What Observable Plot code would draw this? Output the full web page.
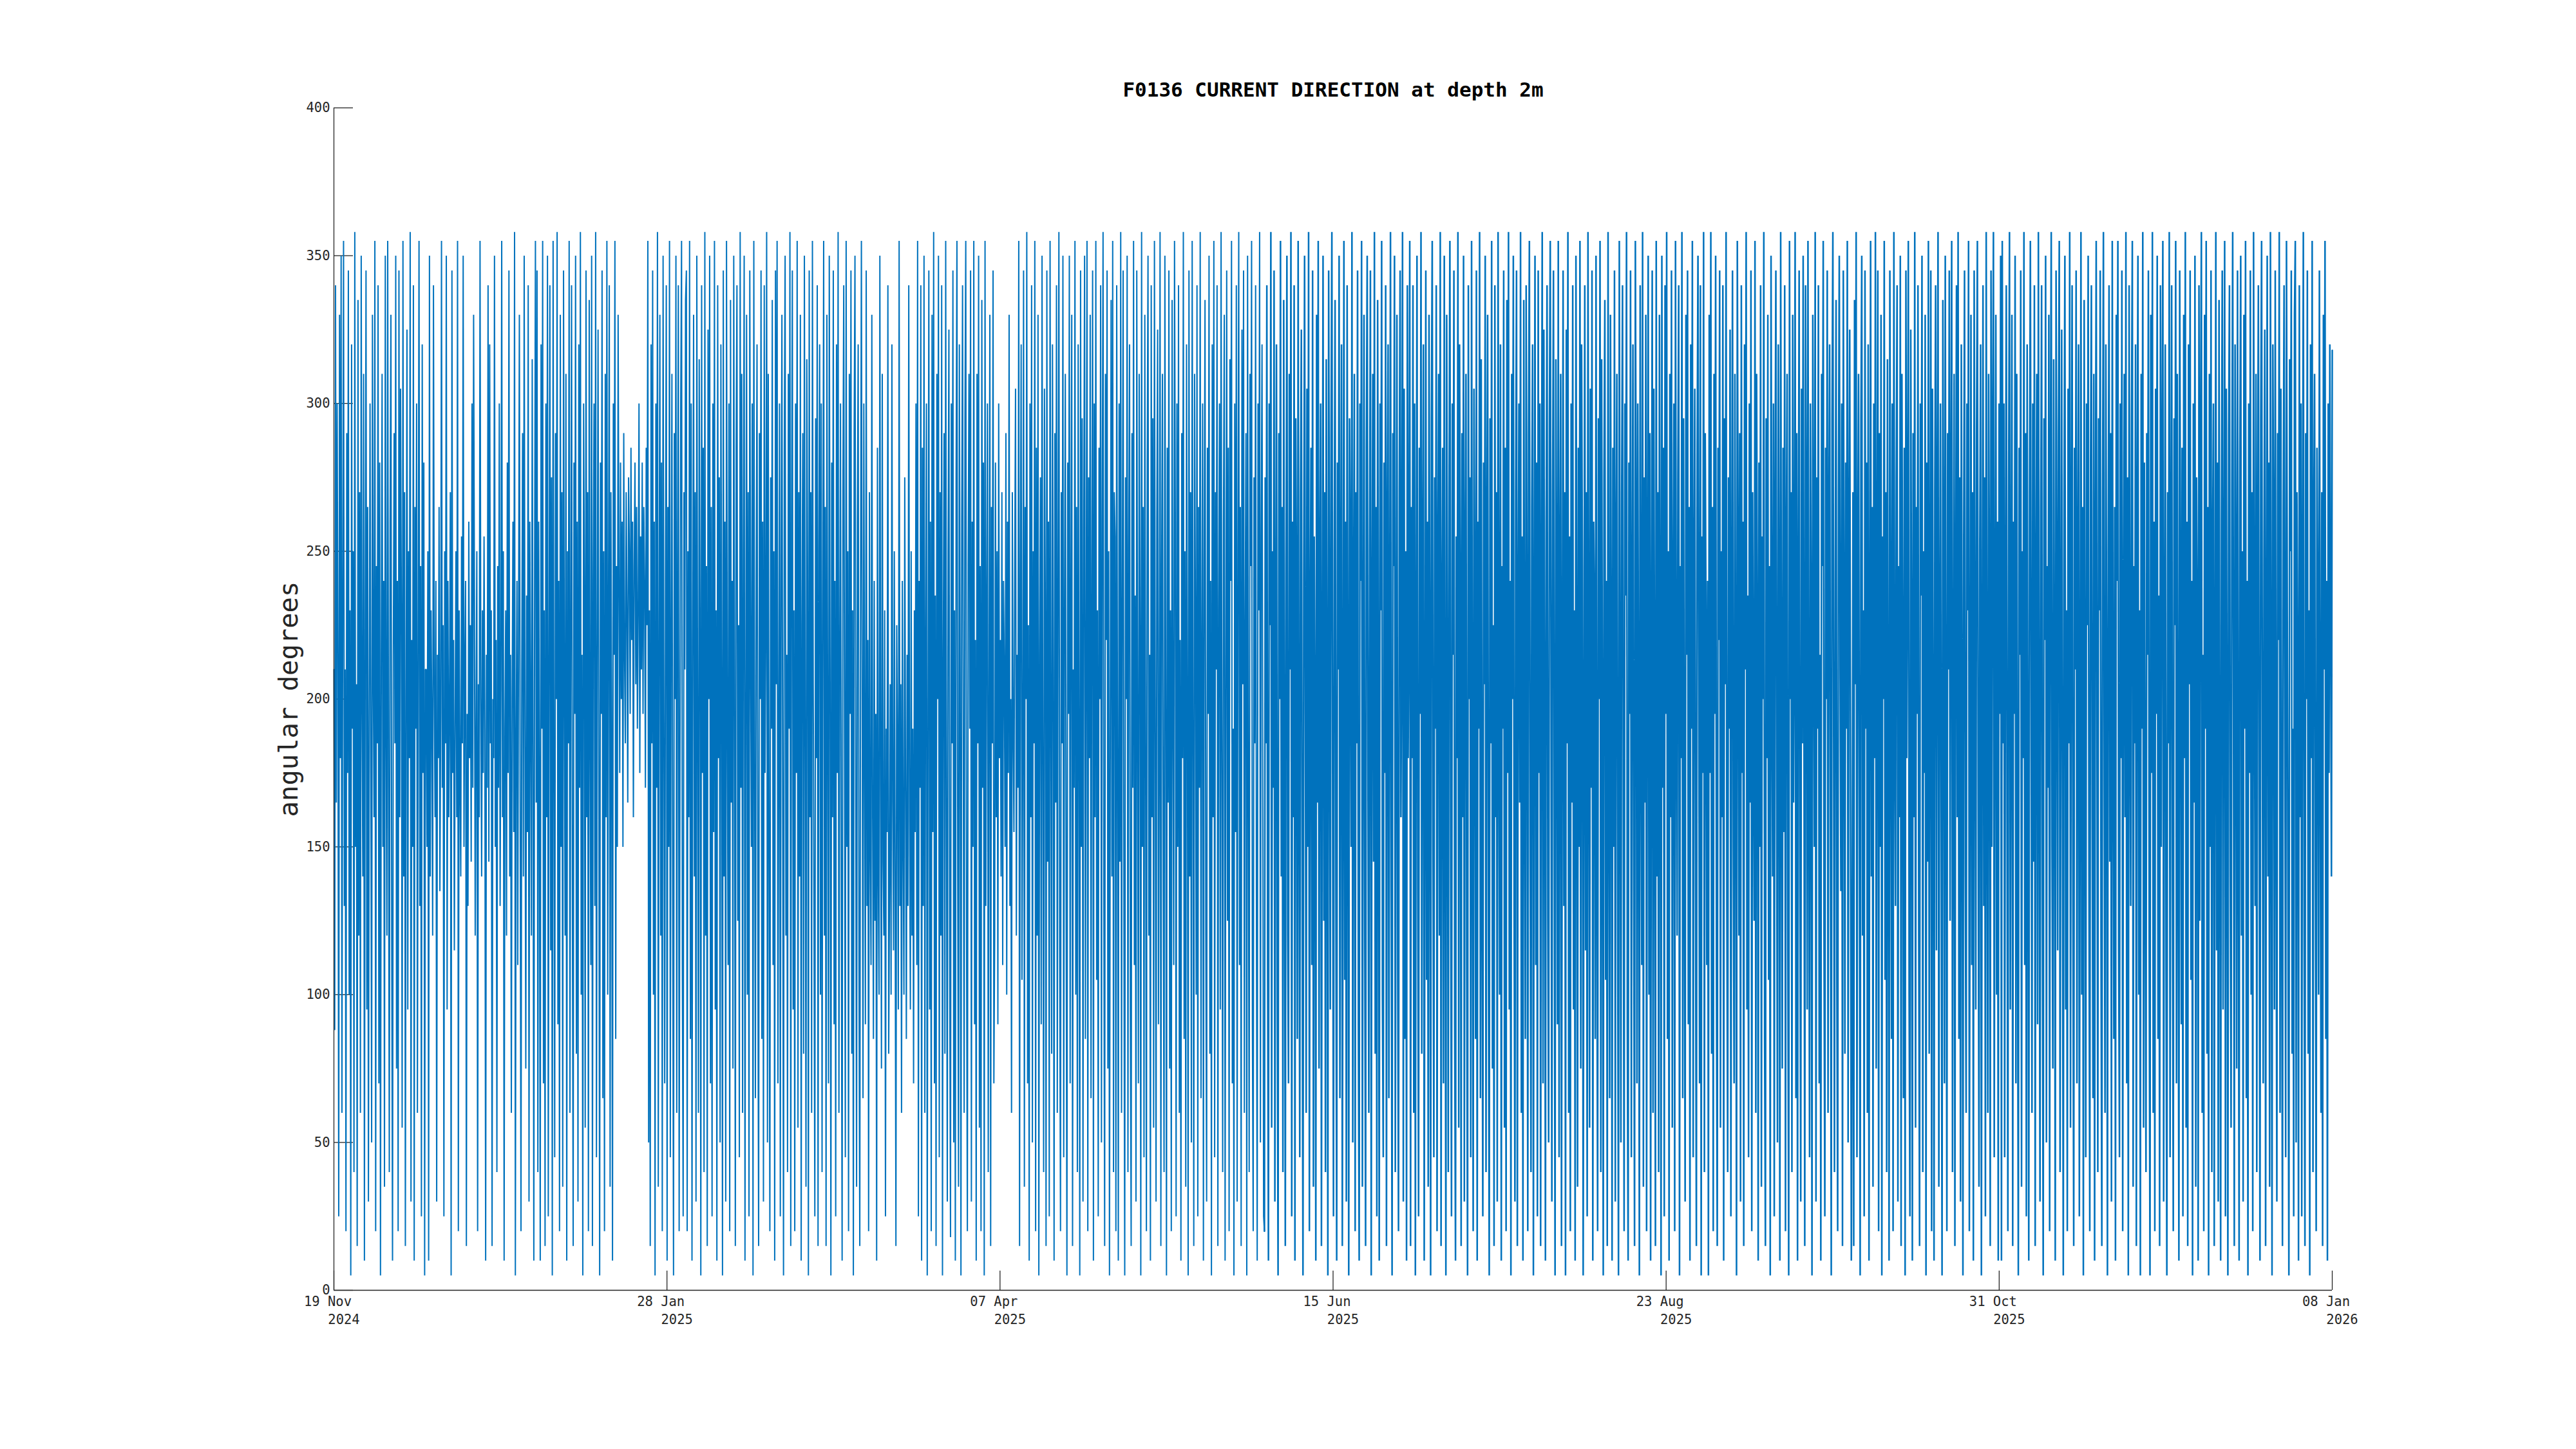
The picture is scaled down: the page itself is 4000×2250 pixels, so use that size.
<!DOCTYPE html>
<html>
<head>
<meta charset="utf-8">
<script src="https://cdn.jsdelivr.net/npm/d3@7"></script>
<script src="https://cdn.jsdelivr.net/npm/@observablehq/plot@0.6"></script>
<style>
  html, body { margin: 0; padding: 0; background: #ffffff; }
  #chart svg { display: block; }
</style>
</head>
<body>
<div id="chart"></div>
<script>
// ---- Chart text ----
const titleText = "F0136 CURRENT DIRECTION at depth 2m";
const yLabelText = "angular degrees";

// ---- Axis ticks ----
const yTicks = [0, 50, 100, 150, 200, 250, 300, 350, 400];
const xTickDates = ["2024-11-19T20:00Z", "2025-01-28T00:00Z", "2025-04-07T04:00Z", "2025-06-15T08:00Z", "2025-08-23T12:00Z", "2025-10-31T16:00Z", "2026-01-08T20:00Z"];
const xTickDayMonth = ["19 Nov", "28 Jan", "07 Apr", "15 Jun", "23 Aug", "31 Oct", "08 Jan"];
const xTickYear = ["2024", "2025", "2025", "2025", "2025", "2025", "2026"];

// ---- Series start / end (regularly sampled record) ----
const seriesStart = "2024-11-19T20:00Z";
const seriesEnd = "2026-01-08T20:00Z";

// ---- Current direction (degrees), month by month ----
const nov2024 = [210,88,340,165,300,215,25,330,180,350,60,240,355,130,210,20,290,175,345,100,230,5,320,190,
250,40,358,150,205,15,335,120,270,60,350,200,140,310,10,225,345,95,265,30,190,300,175,50,
330,210,160,355,20,245,185,340,70,280,5,215,310,150,240,35,350,190,120];
const dec2024 = [355,170,40,260,330,120,10,215,290,185,350,75,240,20,345,160,305,230,55,355,140,270,15,200,
325,95,250,180,358,30,220,150,340,10,265,190,300,60,215,355,130,245,25,320,175,280,5,210,
210,150,250,10,350,140,230,190,120,340,205,160,240,30,215,180,265,135,195,355,170,225,25,250,
185,350,95,240,160,200,270,5,345,175,220,115,190,250,160,355,20,230,175,140,255,185,350,150,
210,240,15,195,130,260,180,225,145,300,170,330,235,120,190,250,20,205,160,355,200,140,230,175,
255,190,10,215,170,340,145,320,185,230,15,200,
180,350,150,220,40,245,170,300,130,205,355,160,250,10,190,230,120,280,175,345,140,215,60,200,
260,155,358,5,185,240,110,225,330,165,20,210,290,140,350,190,75,235,155,340,30,260,200,120,
315,180,10,245,355,165];
const jan2025 = [345,40,260,175,10,320,190,355,70,230,15,300,160,350,25,210,340,115,275,5,355,180,45,290,
200,358,90,240,20,330,150,270,35,345,205,120,310,10,250,185,355,60,225,340,140,15,280,195,
350,80,260,30,320,170,358,100,215,5,300,240,55,345,160,270,20,335,190,110,350,15,240,300,
130,358,45,210,325,170,5,280,195,345,65,250,20,310,160,355,100,230,340,35,270,190,10,300,
215,355,85,245,150,330,
240,175,280,200,260,150,290,215,185,270,230,165,275,250,195,285,220,260,160,245,280,205,265,190,
230,300,175,255,210,280,195,265,240,170,285,225,
355,50,230,15,320,185,345,100,260,5,300,170,358,35,215,330,120,280,20,350,195,70,240,340,
10,265,150,355,45,225,310,130,5,290,200,350,60,245,340,20,175,300,355,110,25,270,210,335];
const feb2025 = [345,20,250,160,355,85,300,10,220,330,140,270,30,350,190,60,315,230,5,340,175,285,40,358,
120,245,15,325,200,350,70,265,25,300,155,355,95,230,10,340,180,275,50,320,210,5,345,140,
260,30,355,190,110,300,20,335,165,240,75,350,205,15,285,340,125,225,45,358,170,310,60,250,
350,10,195,330,100,270,25,345,215,150,300,5,355,180,65,240,320,130,15,290,200,345,85,260,
30,340,175,225,358,50,310,145,20,275,190,335,110,250,10,345,205,355,70,180,300,25,240,330,
160,5,285,350,120,215,40,310,190,358,15,260,345,95,230,20,300,175,355,55,270,140,330,10,
225,290,80,350,185,35,315,240,5,345,160,270,60,355,205,125,25,295,180,340,15,250,320,100];
const mar2025 = [300,40,230,355,120,265,15,330,190,70,350,210,5,280,160,345,90,240,25,320,175,358,60,215,
300,130,10,270,340,185,45,355,150,250,20,310,195,345,80,230,5,290,350,165,35,260,320,110,
15,240,355,200,65,300,
180,90,345,130,220,20,270,150,110,330,160,85,240,125,195,10,285,140,100,350,170,75,310,145,
120,230,25,190,155,340,80,135,205,100,320,165,115,250,140,15,225,180,95,355,130,205,60,240,
150,100,275,170,85,215,130,340,160,95,250,120,190,70,230,155,300,110,
355,25,240,170,340,10,285,130,350,60,220,300,5,190,345,95,260,20,330,155,358,70,235,15,
310,200,350,45,270,120,340,5,215,290,80,355,165,30,250,325,110,18,300,185,345,50,230,10,
275,355,140,35,320,205,5,260,340,175,60,295,355,120,20,245,310,190];
const apr2025 = [345,30,260,150,355,90,220,10,310,185,350,55,245,20,335,170,280,5,355,130,230,300,40,200,
330,15,265,185,345,70,120,280,160,250,90,300,180,220,140,270,110,240,210,150,290,100,260,175,
330,130,200,60,270,190,155,245,305,120,215,170,355,15,240,320,105,180,345,35,265,200,358,70,
225,10,300,160,340,50,250,185,355,20,285,120,330,5,215,275,90,350,170,40,305,235,15,345,
145,260,25,355,195,80,320,210,10,290,165,340,60,245,358,115,20,270,185,350,45,230,310,135,
5,280,195,350,70,240,330,15,210,170,355,100,265,40,320,190,5,345,150,295,30,258,350,85,
215,355,20,275,180,330,65,240,345,10,300,160,355,105,230,25,285,200,340,50,260,358,130,15,
310,220,345,75,250,5,190,335,140,355,40,270];
const may2025 = [255,20,340,180,10,300,145,358,60,230,345,125,5,275,200,350,40,250,320,95,15,290,170,355,
110,235,30,345,190,70,310,225,5,358,150,265,45,330,185,20,280,350,120,215,10,340,160,295,
55,355,200,30,260,325,90,175,358,15,245,310,135,40,350,210,5,285,165,345,75,230,20,335,
195,110,355,260,25,300,150,340,60,220,10,290,180,358,85,250,35,320,205,5,345,140,270,50,
355,190,15,310,230,100,340,25,265,170,358,65,215,300,10,245,335,120,30,285,195,350,80,240,
5,320,160,355,45,270,210,340,15,230,300,95,358,175,40,260,330,10,200,345,125,285,20,315,
240,355,70,190,5,300,155,340,30,250,358,110,265,15,325,205,345,60,225,290,5,350,170,40,
310,245,355,90,20,275,185,340,135,10,300,230,358,50,255,320,165,25];
const jun2025 = [20,275,185,340,110,10,300,225,358,55,250,170,345,30,215,320,95,5,290,200,355,140,265,40,
335,180,15,245,350,120,70,310,210,358,25,260,160,340,10,295,230,85,355,175,45,270,325,130,
5,240,350,195,60,305,150,358,20,220,285,110,345,35,255,190,10,330,165,355,75,240,300,15,
200,350,125,270,40,315,185,5,345,225,95,290,358,160,25,250,335,140,10,280,210,350,65,235,
320,15,175,355,105,260,30,340,195,5,295,245,150,358,50,225,310,20,270,185,345,90,10,300,
240,355,35,200,330,120,15,285,350,170,60,250,345,5,220,310,145,358,80,265,25,335,190,10,
300,230,355,100,45,280,175,340,15,255,320,65,210,358,135,5,290,245,350,40,195,330,110,20,
270,345,160,225,358,30,305,85,250,10,340,180];
const jul2025 = [230,355,15,265,180,340,60,300,5,215,350,135,25,285,195,358,80,240,320,10,170,345,105,260,
35,330,210,5,295,355,150,45,275,190,340,20,245,310,120,358,15,225,285,70,350,165,5,330,
200,40,270,355,140,25,300,215,345,90,10,255,180,358,55,320,235,15,290,160,350,30,245,310,
110,5,340,200,275,45,355,170,20,305,230,85,345,10,260,190,358,65,315,140,25,280,205,350,
40,250,330,120,5,295,185,355,75,225,15,340,160,270,30,358,210,100,320,10,245,190,345,55,
285,20,335,175,358,95,240,5,310,200,350,130,30,270,345,15,225,300,165,358,60,255,10,335,
190,85,340,230,20,290,355,145,40,265,320,5,215,350,110,280,25,345,175,300,15,240,358,70,
325,195,10,260,340,125,50,295,355,205,30,270,345,155,5,315,235,90];
const aug2025 = [355,45,240,310,15,200,345,130,270,5,325,185,358,60,255,20,300,165,340,95,230,10,350,210,
35,285,150,355,75,320,245,5,190,340,115,270,25,358,215,55,305,170,345,10,260,230,85,350,
140,20,295,200,355,40,315,180,5,275,335,105,240,15,358,190,65,330,220,10,285,150,345,30,
250,310,125,5,355,205,50,270,340,160,20,300,235,358,90,10,280,195,345,45,225,320,135,15,
355,260,70,300,185,5,340,210,110,358,35,275,165,330,20,245,350,100,290,10,220,345,60,305,
190,15,355,140,270,40,330,225,5,350,170,285,25,340,195,358,85,250,10,310,160,345,55,230,
300,20,355,205,120,275,340,5,245,180,358,65,295,150,30,330,215,345,90,265,10,320,190,355,
45,240,305,135,15,285,350,210,70,340,5,255,175,358,40,290,225,110];
const sep2025 = [240,5,330,175,358,80,265,20,310,195,350,110,15,285,220,345,55,250,160,340,10,295,205,358,
130,40,275,190,325,25,230,345,150,70,310,200,5,355,245,120,290,30,340,175,260,15,320,210,
358,95,235,45,300,165,345,20,270,190,125,355,60,310,225,10,280,150,340,35,255,200,358,85,
15,295,180,330,105,245,5,350,215,140,300,25,265,345,170,50,320,230,10,358,190,75,285,155,
340,20,250,310,115,5,355,200,270,40,330,165,220,358,65,290,10,240,345,135,30,305,185,350,
200,15,340,260,95,355,170,45,300,225,5,330,250,150,358,30,275,190,340,70,215,10,310,245,
355,120,25,285,200,345,60,260,320,160,5,295,358,185,40,240,335,105,20,270,350,210,135,300,
15,345,230,80,280,190,355,50,255,325,170,10];
const oct2025 = [90,270,15,335,205,358,45,250,310,160,5,295,350,120,230,25,345,190,280,60,320,10,215,355,
140,265,35,300,180,358,75,240,345,20,290,150,330,5,255,200,355,105,270,40,315,170,10,345,
225,85,300,20,358,195,130,275,340,30,245,160,350,15,310,210,65,285,5,345,180,250,355,100,
25,325,220,10,290,160,358,55,265,195,340,120,15,300,235,350,40,250,175,330,5,280,145,355,
80,225,345,20,305,190,10,270,340,115,260,358,35,215,300,155,5,335,245,70,350,180,20,290,
210,345,125,265,355,40,190,310,15,240,340,160,358,85,275,30,320,205,5,255,345,140,60,300,
230,355,20,185,330,110,270,10,345,215,95,290,355,165,35,250,320,5,200,340,130,275,25,358,
180,60,310,240,15,345,150,285,358,45,220,330,100,260,10,300,195,350];
const nov2025 = [10,355,185,300,45,240,340,160,20,275,358,95,225,330,15,260,195,350,70,310,140,5,285,215,
345,35,250,180,358,110,290,25,320,165,10,270,355,200,60,300,145,340,15,235,310,90,358,185,
30,265,340,125,5,295,220,350,50,245,170,330,20,280,358,150,75,315,200,10,345,240,115,290,
355,40,210,325,160,5,270,350,95,230,20,305,185,358,55,255,340,130,15,285,210,345,70,240,
320,25,175,358,100,265,5,335,195,45,300,225,350,140,20,280,340,160,65,310,10,250,355,185,
40,295,230,345,120,15,270,358,170,60,320,210,5,250,340,145,290,30,355,195,85,265,10,330,
240,355,115,45,300,180,345,20,220,310,160,358,70,275,5,340,205,130,295,355,35,245,185,320,
15,265,350,100,230,5,310,190,358,55,280,150];
const dec2025 = [40,290,215,345,120,5,330,175,358,60,260,20,305,195,350,85,235,15,340,150,280,355,30,210,
320,110,5,270,185,358,45,250,340,135,20,295,225,355,70,310,160,10,345,240,90,285,25,330,
180,358,55,260,15,320,205,345,105,240,5,300,165,350,35,275,230,10,340,125,290,358,60,215,
20,330,190,355,80,265,5,310,150,345,40,250,300,15,200,358,115,280,30,335,170,10,260,345,
95,225,355,25,305,185,5,290,340,140,55,270,358,200,15,320,235,75,345,160,10,285,350,120,
250,30,330,190,355,65,240,5,300,175,345,100,270,20,358,215,130,310,40,260,340,160,10,295,
355,185,70,245,325,15,210,350,140,280,35,358,190,5,320,255,95,345,165,30,290,220,358,60,
305,140,15,265,340,200,45,355,230,110,5,315,250,345,80,190,25,330];
const jan2026 = [355,50,270,205,10,340,160,300,25,245,358,120,15,290,200,345,80,230,5,320,180,355,40,260,
310,140,20,285,225,100,345,190,60,270,15,330,210,355,85,240,10,300,175,320,230,140,318];

// ---- Build the table ----
const earlyMonths = [nov2024, dec2024, jan2025, feb2025, mar2025, apr2025, may2025];
const lateMonths = [jun2025, jul2025, aug2025, sep2025, oct2025, nov2025, dec2025, jan2026];
const direction = [].concat(...earlyMonths, ...lateMonths);
const splitIndex = [].concat(...earlyMonths).length;
const t0 = new Date(seriesStart).getTime();
const t1 = new Date(seriesEnd).getTime();
const stepMs = (t1 - t0) / (direction.length - 1);
const rows = direction.map((v, i) => ({time: new Date(t0 + i * stepMs), deg: v}));
const rowsEarly = rows.slice(0, splitIndex + 1);
const rowsLate = rows.slice(splitIndex);
const xTicks = xTickDates.map((d, i) => ({date: new Date(d), dm: xTickDayMonth[i], yr: xTickYear[i]}));

// ---- Layout (pixels) ----
const W = 4000, H = 2250;
const mL = 518, mR = 379, mT = 167, mB = 247;
const frameW = W - mL - mR, frameH = H - mT - mB;
const tickLen = 30;
const ink = "#262626";
const lineColor = "#0072BD";
const font = "DejaVu Sans Mono";

const chart = Plot.plot({
  width: W,
  height: H,
  marginLeft: mL,
  marginRight: mR,
  marginTop: mT,
  marginBottom: mB,
  style: {fontFamily: font, fontSize: "20.5px", color: ink, background: "#ffffff", overflow: "visible"},
  x: {type: "utc", domain: [new Date(seriesStart), new Date(seriesEnd)], axis: null},
  y: {domain: [0, 400], axis: null},
  marks: [
    // inward tick marks (drawn beneath the data)
    Plot.tickY(yTicks, {y: d => d, insetRight: frameW - tickLen, stroke: ink, strokeWidth: 1.3}),
    Plot.tickX(xTicks, {x: "date", insetTop: frameH - tickLen, stroke: ink, strokeWidth: 1.3}),
    // data
    Plot.line(rowsEarly, {x: "time", y: "deg", stroke: lineColor, strokeWidth: 2.0, strokeLinejoin: "miter", strokeMiterlimit: 1}),
    Plot.line(rowsLate, {x: "time", y: "deg", stroke: lineColor, strokeWidth: 2.5, strokeLinejoin: "miter", strokeMiterlimit: 1}),
    // axis lines
    Plot.ruleX([new Date(seriesStart)], {stroke: ink, strokeWidth: 1.3}),
    Plot.ruleY([0], {stroke: ink, strokeWidth: 1.3}),
    // y tick labels
    Plot.text(yTicks, {y: d => d, text: d => String(d), frameAnchor: "left", textAnchor: "end", dx: -6, fill: ink, fontSize: 20.5}),
    // x tick labels (two lines)
    Plot.text(xTicks, {x: "date", text: "dm", frameAnchor: "bottom", lineAnchor: "middle", dy: 18, dx: -9.5, fill: ink, fontSize: 20.5}),
    Plot.text(xTicks, {x: "date", text: "yr", frameAnchor: "bottom", lineAnchor: "middle", dy: 46, dx: 15.5, fill: ink, fontSize: 20.5}),
    // y axis label
    Plot.text([yLabelText], {frameAnchor: "left", rotate: -90, dx: -69, lineAnchor: "middle", textAnchor: "middle", fill: ink, fontSize: 40.5}),
    // title
    Plot.text([titleText], {frameAnchor: "top", dy: -27, lineAnchor: "middle", textAnchor: "middle", fill: "#000000", fontSize: 31, fontWeight: "bold"})
  ]
});
document.getElementById("chart").append(chart);
</script>
</body>
</html>
